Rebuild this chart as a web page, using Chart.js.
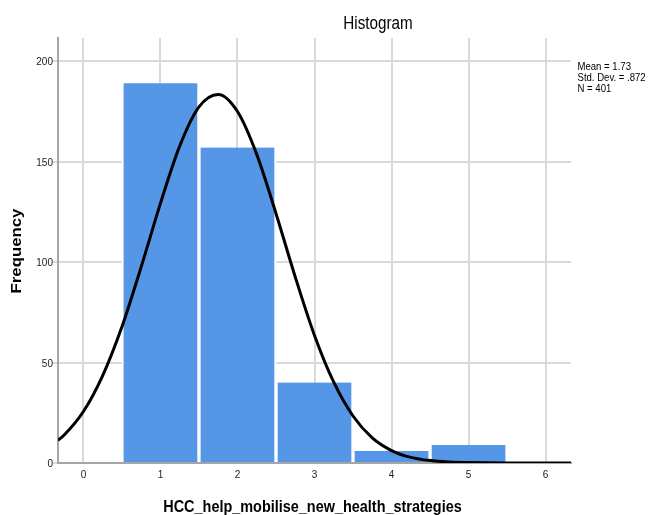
<!DOCTYPE html>
<html>
<head>
<meta charset="utf-8">
<script src="https://cdn.jsdelivr.net/npm/chart.js@4/dist/chart.umd.min.js"></script>
<style>
  html, body { margin: 0; padding: 0; background: #ffffff; }
  #wrap { width: 648px; height: 515px; position: relative; }
</style>
</head>
<body>
<div id="wrap"><canvas id="chart" width="648" height="515"></canvas></div>
<script>
// Response values (bin centres) and their counts
const binCenters = [1, 2, 3, 4, 5];
const binCounts = [189, 157, 40, 6, 9];

// Fitted normal curve, sampled along the x axis
const curveX = [-0.33, -0.25, 0, 0.25, 0.5, 0.75, 1, 1.25, 1.5, 1.75, 2, 2.25, 2.5, 2.75,
                3, 3.25, 3.5, 3.75, 4, 4.25, 4.5, 4.75, 5, 5.5, 6, 6.33];
const curveY = [11.3, 13.9, 25.6, 43.5, 67.8, 97.6, 129.2, 157.7, 177.2, 183.4, 174.9, 153.6, 124.2, 92.6,
                63.5, 40.2, 23.4, 12.5, 6.2, 2.8, 1.2, 0.5, 0.2, 0.0, 0.0, 0.0];

// Axis ticks
const xTicks = [0, 1, 2, 3, 4, 5, 6];
const yTicks = [0, 50, 100, 150, 200];

// Summary statistics
const statLines = ['Mean = 1.73', 'Std. Dev. = .872', 'N = 401'];

const chartTitle = 'Histogram';
const xTitle = 'HCC_help_mobilise_new_health_strategies';
const yTitle = 'Frequency';

const FONT = 'Arial, "Liberation Sans", sans-serif';
const HSCALE = 0.87; // text is set slightly narrow

const barPoints = binCenters.map((x, i) => ({ x: x, y: binCounts[i] }));
const curvePoints = curveX.map((x, i) => ({ x: x, y: curveY[i] }));

// Draws narrow text with its anchor at (x, y)
function narrowText(ctx, text, x, y, align) {
  ctx.save();
  ctx.translate(x, y);
  ctx.scale(HSCALE, 1);
  ctx.textAlign = align;
  ctx.fillText(text, 0, 0);
  ctx.restore();
}

const textPlugin = {
  id: 'textPlugin',
  afterDraw(chart) {
    const ctx = chart.ctx;
    const xs = chart.scales.x;
    const ys = chart.scales.y;
    ctx.save();
    ctx.textBaseline = 'middle';

    // tick labels
    ctx.fillStyle = '#222222';
    ctx.font = '11.5px ' + FONT;
    xTicks.forEach(v => narrowText(ctx, String(v), xs.getPixelForValue(v), 475, 'center'));
    yTicks.forEach(v => narrowText(ctx, String(v), 53, ys.getPixelForValue(v) + 1, 'right'));

    ctx.fillStyle = '#000000';
    ctx.font = '17.5px ' + FONT;
    narrowText(ctx, chartTitle, 378, 24, 'center');

    ctx.font = 'bold 16.6px ' + FONT;
    narrowText(ctx, xTitle, 312.5, 507, 'center');

    ctx.save();
    ctx.translate(17, 251);
    ctx.scale(HSCALE, 1);
    ctx.rotate(-Math.PI / 2);
    ctx.font = 'bold 16.8px ' + FONT;
    ctx.textAlign = 'center';
    ctx.fillText(yTitle, 0, 0);
    ctx.restore();

    ctx.font = '11px ' + FONT;
    statLines.forEach((s, i) => narrowText(ctx, s, 577.5, 67 + i * 11, 'left'));
    ctx.restore();
  }
};

new Chart(document.getElementById('chart'), {
  type: 'bar',
  data: {
    datasets: [
      {
        type: 'line',
        data: curvePoints,
        borderColor: '#000000',
        borderWidth: 3,
        pointRadius: 0,
        cubicInterpolationMode: 'monotone',
        fill: false,
        order: 0
      },
      {
        type: 'bar',
        data: barPoints,
        backgroundColor: '#5596e6',
        borderColor: '#ffffff',
        borderWidth: { left: 2, right: 2, top: 0, bottom: 0 },
        borderSkipped: false,
        barPercentage: 1,
        categoryPercentage: 1,
        order: 1
      }
    ]
  },
  options: {
    responsive: false,
    animation: false,
    layout: { padding: { top: 38, right: 77, left: 0, bottom: 0 } },
    plugins: { legend: { display: false }, tooltip: { enabled: false }, title: { display: false } },
    scales: {
      x: {
        type: 'linear',
        min: -0.33,
        max: 6.33,
        offset: false,
        afterBuildTicks(scale) { scale.ticks = xTicks.map(v => ({ value: v })); },
        afterFit(scale) { scale.height = 52; },
        ticks: { display: false },
        grid: { color: '#d9d9d9', lineWidth: 2, drawTicks: false, offset: false },
        border: { color: '#a6a6a6', width: 2 }
      },
      y: {
        type: 'linear',
        min: 0,
        max: 211.5,
        afterBuildTicks(scale) { scale.ticks = yTicks.map(v => ({ value: v })); },
        afterFit(scale) { scale.width = 58; },
        ticks: { display: false },
        grid: { color: '#d9d9d9', lineWidth: 2, drawTicks: true, tickLength: 5 },
        border: { color: '#a6a6a6', width: 2 }
      }
    }
  },
  plugins: [textPlugin]
});
</script>
</body>
</html>
